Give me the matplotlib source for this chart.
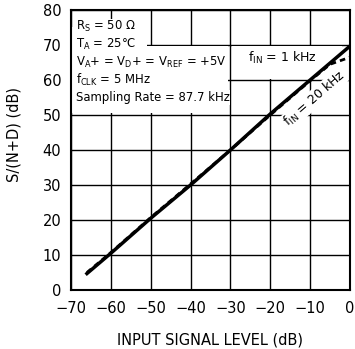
import matplotlib
matplotlib.use("Agg")
import matplotlib.pyplot as plt
from matplotlib.patches import Rectangle

plt.rcParams['font.family'] = 'DejaVu Sans'
plt.rcParams['mathtext.default'] = 'regular'

# data
x_1k = [-66, -60, -50, -40, -30, -20, -10, 0]
snd_1k = [4.7, 10.5, 20.5, 30.0, 40.0, 50.3, 60.0, 69.7]
x_20k = [-66, -60, -50, -40, -30, -20, -10, -5, 0]
snd_20k = [5.0, 10.7, 20.7, 30.3, 40.0, 50.0, 59.8, 64.5, 66.5]

xticks = [-70, -60, -50, -40, -30, -20, -10, 0]
xticklabels = ['\u221270', '\u221260', '\u221250', '\u221240', '\u221230',
               '\u221220', '\u221210', '0']
yticks = [0, 10, 20, 30, 40, 50, 60, 70, 80]

fig = plt.figure(figsize=(3.55, 3.49), dpi=100)
ax = fig.add_axes([71/355, 59/349, 279/355, 280/349])

ax.set_xlim(-70, 0)
ax.set_ylim(0, 80)
ax.set_xticks(xticks)
ax.set_yticks(yticks)
ax.set_xticklabels(xticklabels)
ax.tick_params(length=0, labelsize=10.5, pad=8)
ax.tick_params(axis='y', pad=7)
ax.grid(True, color='black', linewidth=1.0)
ax.set_axisbelow(True)
for s in ax.spines.values():
    s.set_linewidth(1.5)
    s.set_zorder(4)

# white areas behind the notes (they hide the grid like the original)
for (x0, y0, w, h) in [(-70, 69.7, 19, 5.4), (-70, 50.5, 39.5, 19.3),
                       (-29.6, 60.3, 27.6, 9.4)]:
    ax.add_patch(Rectangle((x0, y0), w, h, facecolor='white', edgecolor='none', zorder=1.5))

ax.plot(x_1k, snd_1k, color='black', linewidth=2.5, zorder=3)
ax.plot(x_20k, snd_20k, color='black', linewidth=2.0, linestyle=(0, (2, 1.5)), zorder=3)

fig.text(210/355, 9/349, 'INPUT SIGNAL LEVEL (dB)', fontsize=10.5, ha='center', va='center')
fig.text(14/355, 1 - 135/349, 'S/(N+D) (dB)', fontsize=10.5, ha='center', va='center',
         rotation=90)

lines = [r'R$_{S}$ = 50 $\Omega$',
         r'T$_{A}$ = 25°C',
         r'V$_{A}$+ = V$_{D}$+ = V$_{REF}$ = +5V',
         r'f$_{CLK}$ = 5 MHz',
         'Sampling Rate = 87.7 kHz']
for i, t in enumerate(lines):
    ax.text(-68.8, 75.2 - i * 5.05, t, fontsize=8.4, va='center', ha='left',
            bbox=dict(facecolor='white', edgecolor='none', pad=0.5), zorder=2)

ax.text(-17, 66.2, r'f$_{IN}$ = 1 kHz', fontsize=9, va='center', ha='center', zorder=2)
ax.text(-8.9, 54.7, r'f$_{IN}$ = 20 kHz', fontsize=9, va='center', ha='center',
        rotation=41, bbox=dict(facecolor='white', edgecolor='none', pad=0.5), zorder=2)

fig.savefig('out.png', dpi=100)
